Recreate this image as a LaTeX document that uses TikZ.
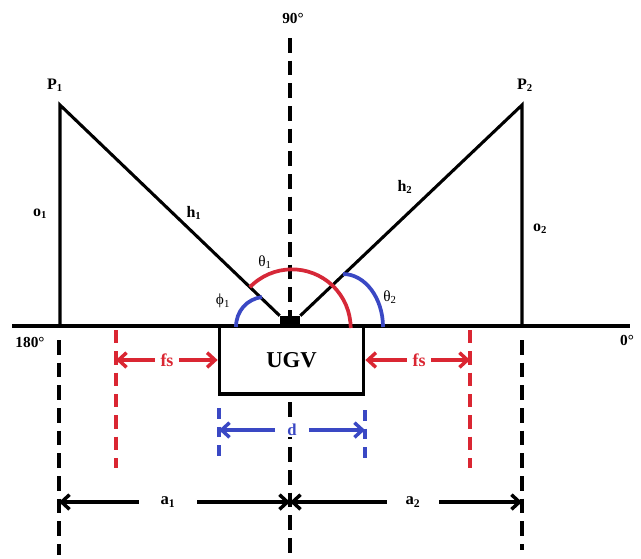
\documentclass[tikz,border=0pt]{standalone}
\usepackage{fontspec}
\setmainfont{Liberation Serif}
\usetikzlibrary{arrows.meta}

\definecolor{fsred}{RGB}{218,38,50}
\definecolor{arcred}{RGB}{214,40,56}
\definecolor{dblue}{RGB}{58,72,196}

\begin{document}
\begin{tikzpicture}[x=0.75pt,y=-0.75pt,
  lbl/.style={font=\fontsize{12}{14}\selectfont\bfseries, inner sep=1pt},
  greek/.style={font=\fontsize{11.5}{13}\selectfont, inner sep=1pt},
  degree/.style={font=\fontsize{11.5}{13}\selectfont\bfseries, inner sep=1pt},
  mainline/.style={line width=2.6pt},
  sideline/.style={line width=2.3pt, line join=miter},
  blackdash/.style={line width=3pt, dash pattern=on 11pt off 6pt},
  reddash/.style={line width=3pt, fsred, dash pattern=on 10pt off 6pt},
  bluedash/.style={line width=3pt, dblue, dash pattern=on 8pt off 6pt},
  anglearc/.style={line width=2.8pt},
  dimarrow/.style={line width=2.6pt, -{Straight Barb[length=6pt,width=11pt,line width=2.6pt]}},
]
  \useasboundingbox (0,0) rectangle (641,558);

  % Draw the base line and the 90 degree axis
  \coordinate (west) at (12,326);
  \coordinate (east) at (630,326);
  \draw[mainline] (west) -- (east);
  \node[degree] (deg90) at (293,18) {90°};
  \node[degree] (deg180) at (30,342) {180°};
  \node[degree] (deg0) at (627,340) {0°};

  % Draw the vehicle and its hub
  \node[fill=black, minimum width=15pt, minimum height=7.5pt, inner sep=0pt] (hub) at (290,321) {};
  \node[draw, line width=2.8pt, minimum width=108pt, minimum height=51pt, inner sep=0pt,
        font=\fontsize{17}{20}\selectfont\bfseries] (ugv) at (291.5,360) {UGV};
  \coordinate (axistop) at (290,38);
  \coordinate (axislow) at (290,402);
  \coordinate (axisend) at (290,555);
  \draw[blackdash] (axistop) -- (hub.north);
  \draw[blackdash] (axislow) -- (axisend);

  % Draw the two triangles
  \coordinate (P1) at (60,105);
  \coordinate (O1) at (60,326);
  \coordinate (P2) at (522,105);
  \coordinate (O2) at (522,326);
  \draw[sideline] (O1) -- (P1) -- (hub.north west);
  \draw[sideline] (O2) -- (P2) -- (hub.north east);
  \node[lbl] (p1) at (55,85) {P\textsubscript{1}};
  \node[lbl] (p2) at (525,85) {P\textsubscript{2}};
  \node[lbl] (o1) at (40,214) {o\textsubscript{1}};
  \node[lbl] (o2) at (540,229) {o\textsubscript{2}};
  \node[lbl] (h1) at (194,213) {h\textsubscript{1}};
  \node[lbl] (h2) at (405,187) {h\textsubscript{2}};

  % Draw the angles
  \coordinate (arcctr) at (292,328);
  \draw[anglearc, arcred] (arcctr) ++(136:44pt) arc[start angle=136, end angle=0, radius=44pt];
  \coordinate (phistart) at (262,297);
  \coordinate (phiend) at (236,327);
  \draw[anglearc, dblue] (phistart) .. controls (247,299) and (236,311) .. (phiend);
  \coordinate (thetastart) at (343,274);
  \coordinate (thetaend) at (383,327);
  \draw[anglearc, dblue] (thetastart) .. controls (365,274) and (383,298) .. (thetaend);
  \node[greek] (th1) at (265,262) {θ\textsubscript{1}};
  \node[greek] (phi1) at (223,301) {ϕ\textsubscript{1}};
  \node[greek] (th2) at (390,297) {θ\textsubscript{2}};

  % Draw the free space on both sides
  \coordinate (fsLtop) at (116,330);
  \coordinate (fsLbot) at (116,468);
  \coordinate (fsRtop) at (470,330);
  \coordinate (fsRbot) at (470,468);
  \draw[reddash] (fsLtop) -- (fsLbot);
  \draw[reddash] (fsRtop) -- (fsRbot);
  \node[lbl, fsred, font=\fontsize{13.5}{15}\selectfont\bfseries, inner xsep=4pt] (fsL) at (167,360) {fs};
  \node[lbl, fsred, font=\fontsize{13.5}{15}\selectfont\bfseries, inner xsep=4pt] (fsR) at (419,360) {fs};
  \draw[dimarrow, fsred] (fsL) -- (fsLtop |- fsL);
  \draw[dimarrow, fsred] (fsL) -- (ugv.west |- fsL);
  \draw[dimarrow, fsred] (fsR) -- (ugv.east |- fsR);
  \draw[dimarrow, fsred] (fsR) -- (fsRtop |- fsR);

  % Draw the width of the vehicle
  \coordinate (dLtop) at (219,408);
  \coordinate (dLbot) at (219,456);
  \coordinate (dRtop) at (365,410);
  \coordinate (dRbot) at (365,459);
  \draw[bluedash] (dLtop) -- (dLbot);
  \draw[bluedash] (dRtop) -- (dRbot);
  \node[lbl, dblue, fill=white, font=\fontsize{12.5}{14}\selectfont\bfseries, inner xsep=9pt] (d) at (292,430) {d};
  \draw[dimarrow, dblue] (d) -- (dLtop |- d);
  \draw[dimarrow, dblue] (d) -- (dRtop |- d);

  % Draw the distances a1 and a2
  \coordinate (O1low) at (59,340);
  \coordinate (O1end) at (59,555);
  \coordinate (O2low) at (522,340);
  \coordinate (O2end) at (522,550);
  \draw[blackdash] (O1low) -- (O1end);
  \draw[blackdash] (O2low) -- (O2end);
  \node[lbl, font=\fontsize{12.5}{14}\selectfont\bfseries, inner xsep=16pt] (a1) at (168,502) {a\textsubscript{1}};
  \node[lbl, font=\fontsize{12.5}{14}\selectfont\bfseries, inner xsep=14pt] (a2) at (413,502) {a\textsubscript{2}};
  \draw[dimarrow] (a1) -- (O1low |- a1);
  \draw[dimarrow] (a1) -- (axisend |- a1);
  \draw[dimarrow] (a2) -- (axisend |- a2);
  \draw[dimarrow] (a2) -- (O2low |- a2);
\end{tikzpicture}
\end{document}
